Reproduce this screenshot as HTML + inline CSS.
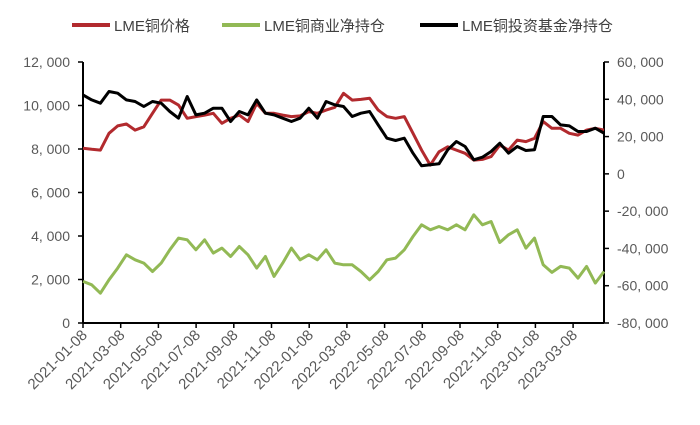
<!DOCTYPE html>
<html><head><meta charset="utf-8"><style>
body{margin:0;background:#fff;}
svg text{font-family:"Liberation Sans","Noto Sans CJK SC",sans-serif;}
</style></head><body>
<svg id="chart" width="700" height="420" xmlns="http://www.w3.org/2000/svg">
<g>
 <g><line x1="72" y1="25" x2="110" y2="25" stroke="#b22a2e" stroke-width="4"/><text x="114" y="31" font-size="15" fill="#404040">LME铜价格</text></g>
 <g><line x1="222" y1="25" x2="260" y2="25" stroke="#92b955" stroke-width="4"/><text x="264" y="31" font-size="15" fill="#404040">LME铜商业净持仓</text></g>
 <g><line x1="420" y1="25" x2="458" y2="25" stroke="#000" stroke-width="4"/><text x="462" y="31" font-size="15" fill="#404040">LME铜投资基金净持仓</text></g>
</g>
<g id="axes"></g>
<g id="series"></g>
</svg>
<script>
const xLabels=["2021-01-08","2021-03-08","2021-05-08","2021-07-08","2021-09-08","2021-11-08","2022-01-08","2022-03-08","2022-05-08","2022-07-08","2022-09-08","2022-11-08","2023-01-08","2023-03-08"];
const leftTicks=[0,2000,4000,6000,8000,10000,12000];
const rightTicks=[-80000,-60000,-40000,-20000,0,20000,40000,60000];
const price=[8030,7985,7950,8720,9060,9150,8870,9020,9640,10250,10250,10020,9410,9490,9560,9640,9180,9410,9560,9260,10100,9640,9640,9560,9490,9520,9720,9640,9790,9915,10560,10250,10280,10330,9790,9490,9410,9490,8720,7950,7260,7870,8100,7950,7800,7490,7520,7650,8180,7950,8410,8340,8490,9260,8950,8950,8720,8640,8870,8950,8870];
const commercial=[-57710,-59490,-64000,-56810,-50560,-43410,-46090,-47880,-52350,-47880,-40730,-34480,-35370,-40730,-35370,-42520,-39840,-44310,-38940,-43410,-50560,-44310,-55030,-47880,-39840,-46090,-43410,-46090,-40730,-47880,-48770,-48770,-52350,-56810,-52350,-46090,-45200,-40730,-33580,-27330,-30010,-28220,-30010,-27330,-30010,-21970,-27330,-25540,-36800,-32690,-30010,-39840,-34480,-48770,-52880,-49660,-50560,-55920,-49660,-58600,-52350];
const fund=[42370,39680,37900,44150,43260,39680,38790,36110,38790,37900,33430,29860,41470,31640,32540,35220,35220,28070,33430,31640,39680,32540,31640,29860,28070,29860,35220,29860,38790,37000,36110,30750,32540,33430,26280,19130,17880,19130,11090,4300,4840,5370,12880,17350,14670,7520,8950,11990,16460,11090,14670,12520,12880,30750,30750,26280,25750,22710,22710,24500,21820];
const L=83,R=604,T=62,B=323;
const NS="http://www.w3.org/2000/svg";
const yL=v=>B-(v/12000)*(B-T);
const yR=v=>B-((v+80000)/140000)*(B-T);
const xI=i=>L+i*(R-L)/(price.length-1);
const xT=i=>L+i*37.7;
function mk(tag,attrs,parent){const e=document.createElementNS(NS,tag);for(const k in attrs)e.setAttribute(k,attrs[k]);parent.appendChild(e);return e;}
const ax=document.getElementById('axes'),se=document.getElementById('series');
let e=mk('line',{x1:L,y1:T,x2:L,y2:B,stroke:'#000','stroke-width':2},ax);


e=mk('line',{x1:R,y1:T,x2:R,y2:B,stroke:'#000','stroke-width':2},ax);


e=mk('line',{x1:L,y1:B,x2:R,y2:B,stroke:'#000','stroke-width':2},ax);


leftTicks.forEach(v=>{const y=yL(v);mk('line',{x1:L-5,y1:y,x2:L,y2:y,stroke:'#000','stroke-width':1.5},ax);
 const t=mk('text',{x:L-13,y:y+5,'font-size':14,fill:'#595959','text-anchor':'end'},ax);t.textContent=v.toLocaleString('en-US').replace(',',', ');
 
 });
rightTicks.forEach(v=>{const y=yR(v);mk('line',{x1:R,y1:y,x2:R+5,y2:y,stroke:'#000','stroke-width':1.5},ax);
 const t=mk('text',{x:R+13,y:y+5,'font-size':14,fill:'#595959'},ax);t.textContent=v===0?'0':v.toLocaleString('en-US').replace(',',', ');
 
 });
xLabels.forEach((s,i)=>{const x=xT(i);mk('line',{x1:x,y1:B,x2:x,y2:B+5,stroke:'#000','stroke-width':1.5},ax);
 const t=mk('text',{x:x+5,y:B+13,'font-size':15,fill:'#595959','text-anchor':'end',transform:`rotate(-45 ${x+5} ${B+13})`},ax);t.textContent=s;
 
 });
function line(arr,f,color,name){const d=arr.map((v,i)=>(i?'L':'M')+xI(i).toFixed(1)+' '+f(v).toFixed(1)).join(' ');
 const p=mk('path',{d:d,fill:'none',stroke:color,'stroke-width':3,'stroke-linejoin':'round'},se);
 
 }
line(commercial,yR,'#92b955','commercial-net-line');
line(price,yL,'#b22a2e','price-line');
line(fund,yR,'#000','fund-net-line');
</script>
</body></html>
